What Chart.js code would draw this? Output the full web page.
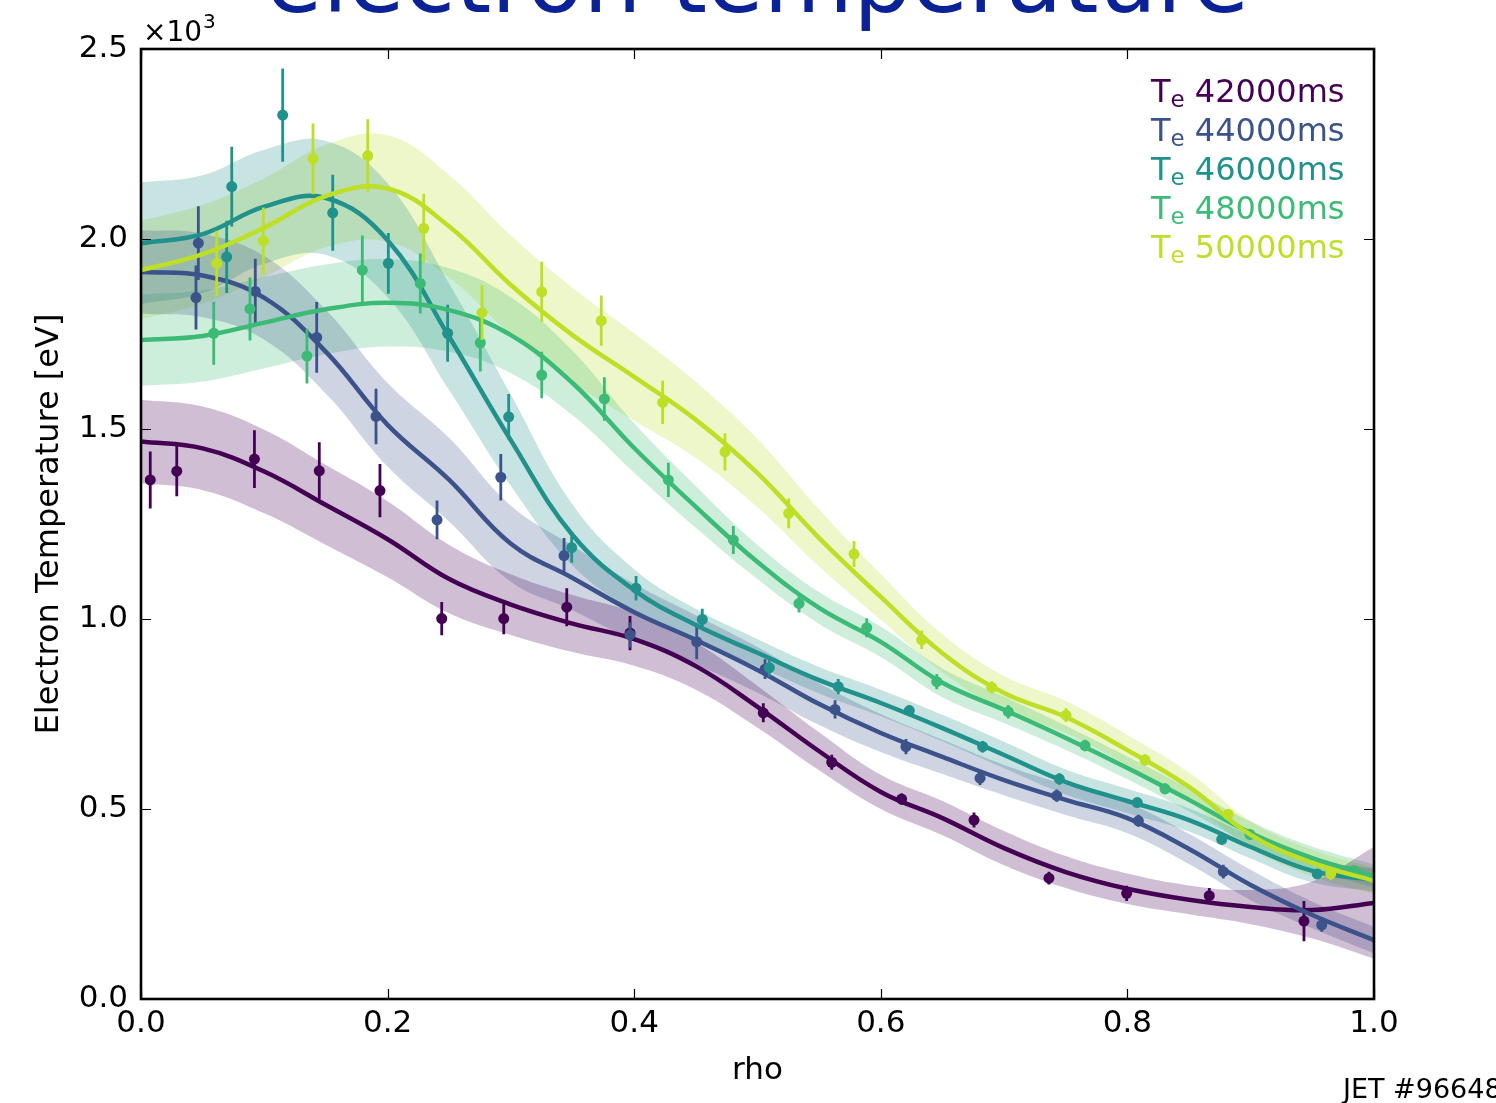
<!DOCTYPE html>
<html>
<head>
<meta charset="utf-8">
<script src="https://cdn.jsdelivr.net/npm/chart.js@4.4.1/dist/chart.umd.min.js"></script>
<style>
html,body{margin:0;padding:0;background:#fff;overflow:hidden}
#wrap{width:1496px;height:1103px;position:relative;background:#fff}
canvas{display:block}
</style>
</head>
<body>
<div id="wrap"><canvas id="c" width="1496" height="1103"></canvas></div>
<script>
// ---------- data (Te in units of 10^3 eV) ----------
const seriesLabels = ['42000ms', '44000ms', '46000ms', '48000ms', '50000ms'];
const seriesColors = ['#440154', '#3b528b', '#21918c', '#3bbb75', '#bddf26'];
const xTicks = [0.0, 0.2, 0.4, 0.6, 0.8, 1.0];
const yTicks = [0.0, 0.5, 1.0, 1.5, 2.0, 2.5];

// fitted profiles sampled on a rho grid
const rhoGrid = [0, 0.05, 0.1, 0.15, 0.2, 0.25, 0.3, 0.35, 0.4, 0.45, 0.5, 0.55, 0.6, 0.65, 0.7, 0.75, 0.8, 0.85, 0.9, 0.95, 1.0];
const fit42000 = [1.467, 1.449, 1.388, 1.300, 1.210, 1.105, 1.038, 0.988, 0.947, 0.876, 0.769, 0.652, 0.545, 0.476, 0.397, 0.334, 0.29, 0.261, 0.242, 0.234, 0.253];
const band42000 = [0.11, 0.11, 0.11, 0.105, 0.1, 0.09, 0.08, 0.075, 0.07, 0.062, 0.055, 0.05, 0.045, 0.045, 0.045, 0.042, 0.04, 0.038, 0.045, 0.075, 0.147];
const fit44000 = [1.913, 1.904, 1.845, 1.703, 1.511, 1.366, 1.198, 1.108, 1.018, 0.945, 0.866, 0.776, 0.70, 0.637, 0.576, 0.524, 0.476, 0.395, 0.30, 0.221, 0.155];
const band44000 = [0.11, 0.11, 0.11, 0.11, 0.11, 0.11, 0.1, 0.085, 0.075, 0.065, 0.06, 0.055, 0.05, 0.045, 0.04, 0.04, 0.04, 0.04, 0.04, 0.035, 0.035];
const fit46000 = [1.989, 2.013, 2.085, 2.108, 1.997, 1.742, 1.47, 1.221, 1.076, 0.984, 0.911, 0.839, 0.779, 0.713, 0.642, 0.571, 0.521, 0.471, 0.40, 0.337, 0.313];
const band46000 = [0.16, 0.155, 0.15, 0.15, 0.15, 0.14, 0.12, 0.08, 0.055, 0.042, 0.036, 0.035, 0.035, 0.035, 0.035, 0.033, 0.032, 0.03, 0.03, 0.03, 0.03];
const fit48000 = [1.734, 1.745, 1.78, 1.815, 1.832, 1.813, 1.747, 1.621, 1.45, 1.295, 1.15, 1.029, 0.94, 0.832, 0.761, 0.687, 0.608, 0.524, 0.437, 0.371, 0.324];
const band48000 = [0.12, 0.12, 0.12, 0.118, 0.115, 0.11, 0.1, 0.085, 0.065, 0.055, 0.045, 0.042, 0.04, 0.038, 0.035, 0.032, 0.03, 0.03, 0.03, 0.03, 0.03];
const fit50000 = [1.918, 1.96, 2.03, 2.113, 2.133, 2.033, 1.879, 1.747, 1.637, 1.524, 1.384, 1.213, 1.058, 0.91, 0.805, 0.742, 0.655, 0.558, 0.432, 0.358, 0.311];
const band50000 = [0.13, 0.13, 0.13, 0.135, 0.14, 0.135, 0.13, 0.125, 0.115, 0.1, 0.09, 0.075, 0.06, 0.05, 0.045, 0.042, 0.04, 0.038, 0.036, 0.035, 0.035];

// measured points with error bars
const rho42000 = [0.0075, 0.029, 0.092, 0.1446, 0.1938, 0.2439, 0.2942, 0.3453, 0.3966, 0.5047, 0.5602, 0.6169, 0.6756, 0.7364, 0.7994, 0.8664, 0.9432];
const te42000  = [1.366, 1.389, 1.421, 1.390, 1.338, 1.001, 1.001, 1.031, 0.963, 0.753, 0.623, 0.526, 0.471, 0.318, 0.278, 0.272, 0.205];
const err42000 = [0.075, 0.066, 0.076, 0.075, 0.07, 0.044, 0.041, 0.05, 0.045, 0.025, 0.02, 0.015, 0.02, 0.017, 0.02, 0.02, 0.053];

const rho44000 = [0.0446, 0.0465, 0.0927, 0.1425, 0.1906, 0.2401, 0.2918, 0.3431, 0.3966, 0.4507, 0.5061, 0.5629, 0.6204, 0.6805, 0.7427, 0.8089, 0.8778, 0.9576];
const te44000  = [1.846, 1.989, 1.862, 1.741, 1.533, 1.261, 1.373, 1.167, 0.958, 0.940, 0.868, 0.762, 0.664, 0.581, 0.535, 0.469, 0.335, 0.195];
const err44000 = [0.084, 0.097, 0.086, 0.093, 0.073, 0.051, 0.061, 0.046, 0.033, 0.046, 0.026, 0.024, 0.02, 0.018, 0.016, 0.016, 0.018, 0.018];

const rho46000 = [0.0695, 0.0736, 0.1149, 0.1555, 0.2006, 0.2487, 0.2982, 0.3493, 0.4015, 0.4552, 0.5096, 0.5655, 0.6231, 0.6826, 0.7448, 0.808, 0.8765, 0.954];
const te46000  = [1.953, 2.138, 2.326, 2.069, 1.936, 1.752, 1.532, 1.188, 1.081, 0.999, 0.872, 0.822, 0.759, 0.664, 0.579, 0.517, 0.420, 0.329];
const err46000 = [0.095, 0.105, 0.123, 0.1, 0.08, 0.075, 0.06, 0.04, 0.032, 0.028, 0.023, 0.02, 0.015, 0.015, 0.015, 0.012, 0.012, 0.012];

const rho48000 = [0.059, 0.0884, 0.1346, 0.1795, 0.2265, 0.2752, 0.325, 0.3758, 0.4277, 0.4804, 0.5337, 0.5886, 0.6454, 0.7034, 0.7656, 0.8305, 0.8994, 0.9838];
const te48000  = [1.752, 1.816, 1.692, 1.918, 1.883, 1.727, 1.642, 1.579, 1.366, 1.208, 1.041, 0.977, 0.835, 0.756, 0.667, 0.553, 0.433, 0.338];
const err48000 = [0.083, 0.083, 0.072, 0.091, 0.079, 0.076, 0.061, 0.057, 0.045, 0.037, 0.024, 0.025, 0.02, 0.018, 0.015, 0.014, 0.014, 0.013];

const rho50000 = [0.0614, 0.0992, 0.1395, 0.1839, 0.2293, 0.2766, 0.325, 0.3733, 0.4231, 0.4736, 0.5253, 0.5783, 0.6332, 0.690, 0.7502, 0.8143, 0.8818, 0.9649];
const te50000  = [1.936, 1.995, 2.211, 2.219, 2.028, 1.806, 1.861, 1.785, 1.570, 1.440, 1.278, 1.171, 0.945, 0.820, 0.747, 0.629, 0.486, 0.329];
const err50000 = [0.086, 0.088, 0.093, 0.096, 0.091, 0.072, 0.079, 0.066, 0.057, 0.049, 0.039, 0.034, 0.024, 0.016, 0.018, 0.015, 0.014, 0.015];

const series = [
  {fit: fit42000, band: band42000, rho: rho42000, te: te42000, err: err42000},
  {fit: fit44000, band: band44000, rho: rho44000, te: te44000, err: err44000},
  {fit: fit46000, band: band46000, rho: rho46000, te: te46000, err: err46000},
  {fit: fit48000, band: band48000, rho: rho48000, te: te48000, err: err48000},
  {fit: fit50000, band: band50000, rho: rho50000, te: te50000, err: err50000}
];

// ---------- build datasets ----------
function rgba(hex, a) {
  const n = parseInt(hex.slice(1), 16);
  return 'rgba(' + ((n >> 16) & 255) + ',' + ((n >> 8) & 255) + ',' + (n & 255) + ',' + a + ')';
}
const SMOOTH = 0.4;
const datasets = [];
series.forEach((s, i) => {
  const col = seriesColors[i];
  datasets.push({
    label: 'band_hi_' + i,
    data: rhoGrid.map((r, k) => ({x: r, y: s.fit[k] + s.band[k]})),
    borderWidth: 0, pointRadius: 0, fill: '+1',
    backgroundColor: rgba(col, 0.25), borderColor: 'rgba(0,0,0,0)',
    tension: SMOOTH, order: 500
  });
  datasets.push({
    label: 'band_lo_' + i,
    data: rhoGrid.map((r, k) => ({x: r, y: s.fit[k] - s.band[k]})),
    borderWidth: 0, pointRadius: 0, fill: false,
    borderColor: 'rgba(0,0,0,0)',
    tension: SMOOTH, order: 500
  });
  datasets.push({
    label: 'fit_' + i,
    data: rhoGrid.map((r, k) => ({x: r, y: s.fit[k]})),
    borderColor: col, borderWidth: 4.5, pointRadius: 0, fill: false,
    tension: SMOOTH, order: 100 - 10 * i
  });
  const eb = [];
  s.rho.forEach((r, k) => {
    eb.push({x: r, y: s.te[k] - s.err[k]});
    eb.push({x: r, y: s.te[k] + s.err[k]});
    eb.push({x: r, y: null});
  });
  datasets.push({
    label: 'err_' + i, data: eb,
    borderColor: col, borderWidth: 2.8, pointRadius: 0, fill: false,
    tension: 0, spanGaps: false, order: 99 - 10 * i
  });
  datasets.push({
    label: 'pts_' + i,
    data: s.rho.map((r, k) => ({x: r, y: s.te[k]})),
    showLine: false, pointRadius: 5.5, pointBackgroundColor: col,
    pointBorderWidth: 0, borderColor: col, fill: false, order: 98 - 10 * i
  });
});

// ---------- decorations ----------
const FONT = "'DejaVu Sans', sans-serif";
const decor = {
  id: 'decor',
  afterDraw(chart) {
    const ctx = chart.ctx;
    const a = chart.chartArea;
    const xs = chart.scales.x, ys = chart.scales.y;
    ctx.save();
    // inward tick marks on all four sides
    ctx.strokeStyle = '#000';
    ctx.lineWidth = 1.2;
    ctx.beginPath();
    xTicks.forEach(v => {
      const px = Math.round(xs.getPixelForValue(v)) + 0.5;
      ctx.moveTo(px, a.bottom); ctx.lineTo(px, a.bottom - 10);
      ctx.moveTo(px, a.top); ctx.lineTo(px, a.top + 10);
    });
    yTicks.forEach(v => {
      const py = Math.round(ys.getPixelForValue(v)) + 0.5;
      ctx.moveTo(a.left, py); ctx.lineTo(a.left + 10, py);
      ctx.moveTo(a.right, py); ctx.lineTo(a.right - 10, py);
    });
    ctx.stroke();
    // frame
    ctx.lineWidth = 2.6;
    ctx.strokeRect(a.left, a.top, a.right - a.left, a.bottom - a.top);

    // title (cut by the top edge)
    ctx.fillStyle = '#0b2196';
    ctx.font = '92px ' + FONT;
    ctx.textAlign = 'center';
    ctx.textBaseline = 'alphabetic';
    ctx.fillText('electron temperature', (a.left + a.right) / 2, 12);

    // offset text x10^3
    ctx.fillStyle = '#000';
    ctx.textAlign = 'left';
    ctx.font = '28px ' + FONT;
    ctx.fillText('\u00d710', 143, 41);
    const w = ctx.measureText('\u00d710').width;
    ctx.font = '20px ' + FONT;
    ctx.fillText('3', 143 + w + 1, 28);

    // shot label
    ctx.font = '27px ' + FONT;
    ctx.fillText('JET #96648', 1343, 1098);

    // legend
    seriesLabels.forEach((lab, i) => {
      const y = 102 + 39 * i;
      let x = 1151;
      ctx.fillStyle = seriesColors[i];
      ctx.font = '32px ' + FONT;
      ctx.fillText('T', x, y);
      x += ctx.measureText('T').width;
      ctx.font = '23px ' + FONT;
      ctx.fillText('e', x, y + 5);
      x += ctx.measureText('e').width;
      ctx.font = '32px ' + FONT;
      ctx.fillText(' ' + lab, x, y);
    });
    ctx.restore();
  }
};

Chart.defaults.font.family = FONT;
Chart.defaults.color = '#000';

new Chart(document.getElementById('c'), {
  type: 'line',
  data: {datasets},
  options: {
    responsive: false,
    animation: false,
    devicePixelRatio: 1,
    events: [],
    layout: {padding: {left: 0, right: 122, top: 49, bottom: 0}},
    plugins: {
      legend: {display: false},
      tooltip: {enabled: false},
      filler: {drawTime: 'beforeDatasetsDraw', propagate: false}
    },
    scales: {
      x: {
        type: 'linear', min: 0, max: 1,
        afterBuildTicks: s => { s.ticks = xTicks.map(v => ({value: v})); },
        afterFit: s => { s.height = 104; },
        grid: {display: false, drawTicks: false},
        border: {display: false},
        ticks: {font: {size: 31}, color: '#000', padding: 6, maxRotation: 0,
                callback: v => Number(v).toFixed(1)},
        title: {display: true, text: 'rho', font: {size: 31}, color: '#000', padding: {top: 0, bottom: 13}}
      },
      y: {
        type: 'linear', min: 0, max: 2.5,
        afterBuildTicks: s => { s.ticks = yTicks.map(v => ({value: v})); },
        afterFit: s => { s.width = 141; },
        grid: {display: false, drawTicks: false},
        border: {display: false},
        ticks: {font: {size: 31}, color: '#000', padding: 13,
                callback: v => Number(v).toFixed(1)},
        title: {display: true, text: 'Electron Temperature [eV]', font: {size: 32}, color: '#000', padding: {top: 30, bottom: 0}}
      }
    }
  },
  plugins: [decor]
});
</script>
</body>
</html>
